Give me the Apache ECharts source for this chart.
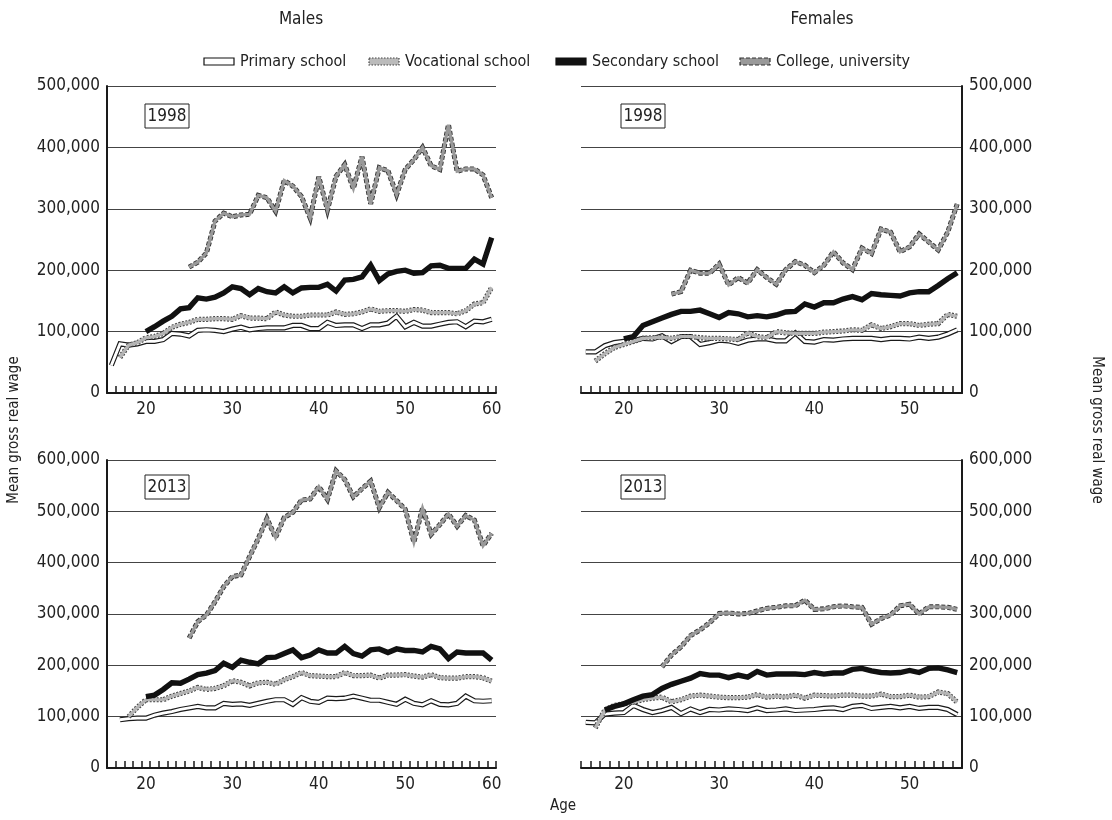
<!DOCTYPE html>
<html><head><meta charset="utf-8">
<script src="https://cdn.jsdelivr.net/npm/echarts@6/dist/echarts.min.js"></script>
<style>html,body{margin:0;padding:0;background:#fff}#c{width:1112px;height:820px}</style>
</head><body><div id="c"></div>
<script>
// ---------------- DATA (values in thousands) ----------------
const agesMale = ['16','17','18','19','20','21','22','23','24','25','26','27','28','29','30','31','32','33','34','35','36','37','38','39','40','41','42','43','44','45','46','47','48','49','50','51','52','53','54','55','56','57','58','59','60'];
const agesFemale = ['16','17','18','19','20','21','22','23','24','25','26','27','28','29','30','31','32','33','34','35','36','37','38','39','40','41','42','43','44','45','46','47','48','49','50','51','52','53','54','55'];
const yTicks1998 = [0,100,200,300,400,500];
const yTicks2013 = [0,100,200,300,400,500,600];
const seriesNames = ['Primary school','Vocational school','Secondary school','College, university'];

// Males 1998 (ages 16-60)
const primM98 = [45,80,78,80,84,84,87,97,96,93,102,103,102,100,104,107,103,105,106,106,106,110,110,105,105,115,110,111,111,105,111,111,114,125,108,115,109,109,112,115,116,108,117,116,120];
const vocM98  = [null,58,78,82,90,92,97,107,112,115,120,120,121,121,120,126,122,122,121,132,127,125,125,127,127,127,132,128,129,132,137,133,134,134,133,136,135,131,131,131,129,134,145,147,172];
const secM98  = [null,null,null,null,100,108,117,125,137,139,155,153,156,163,173,170,160,170,165,163,173,163,171,172,172,177,166,184,185,189,208,183,194,198,200,195,196,207,208,203,203,203,218,210,253];
const colM98  = [null,null,null,null,null,null,null,null,null,205,213,228,280,293,287,290,291,322,318,296,346,337,320,285,352,298,353,372,333,385,308,367,362,323,364,380,400,370,364,437,361,365,365,355,318];

// Females 1998 (ages 16-55)
const primF98 = [67,67,77,82,84,85,89,88,93,84,92,92,79,82,86,85,81,86,88,88,85,85,98,84,83,87,86,88,89,89,89,87,89,89,88,91,89,91,96,103];
const vocF98  = [null,52,64,74,79,84,89,90,91,89,92,92,90,89,89,88,87,98,92,90,100,98,97,97,97,99,100,101,103,102,111,105,108,113,113,110,112,113,128,125];
const secF98  = [null,null,null,null,88,92,110,116,122,128,133,133,135,129,123,131,129,124,126,124,127,132,133,145,140,147,147,153,157,152,162,160,159,158,163,165,165,175,186,196];
const colF98  = [null,null,null,null,null,null,null,null,null,161,165,200,195,195,210,176,188,179,201,188,177,201,214,208,196,208,230,212,201,236,227,267,262,230,238,259,246,233,262,308];

// Males 2013 (ages 16-60)
const primM13 = [null,94,96,97,97,103,107,110,114,117,120,117,117,126,124,125,122,126,130,133,133,124,137,130,128,136,135,136,140,136,132,132,128,124,134,126,123,131,124,123,126,140,131,130,131];
const vocM13  = [null,null,100,118,133,133,133,140,145,150,157,153,155,160,170,167,160,166,167,163,172,178,186,180,179,178,178,186,180,180,181,175,181,181,182,179,177,182,176,175,175,178,178,176,169];
const secM13  = [null,null,null,null,139,142,153,166,165,173,182,185,190,204,196,210,206,203,215,216,223,230,215,220,230,224,224,237,223,218,230,232,225,232,229,229,226,237,232,213,226,224,224,224,210];
const colM13  = [null,null,null,null,null,null,null,null,null,253,285,298,324,353,373,376,412,447,486,449,488,498,522,524,548,523,579,562,528,544,559,507,537,521,504,440,506,455,474,495,471,492,483,433,457];

// Females 2013 (ages 16-55)
const primF13 = [89,88,105,107,108,122,114,108,112,118,106,115,108,114,113,115,114,112,117,112,113,115,112,113,114,116,117,114,120,122,116,118,120,117,120,116,118,118,114,104];
const vocF13  = [null,78,113,122,125,128,133,136,138,129,133,140,142,140,138,137,137,138,143,138,140,138,142,136,142,141,140,142,142,140,140,144,139,139,142,138,139,148,145,128];
const secF13  = [null,null,113,120,125,133,140,143,155,163,169,175,184,181,181,176,181,177,188,181,183,183,183,182,186,183,185,185,192,194,189,186,185,186,190,186,194,195,191,186];
const colF13  = [null,null,null,null,null,null,null,null,197,220,236,258,269,283,301,302,300,301,306,311,313,316,316,327,309,310,314,316,314,313,280,291,298,316,319,300,314,314,313,309];

// ---------------- CHART ----------------
const FONT = "'Liberation Sans Narrow','DejaVu Sans Condensed','Roboto Condensed',sans-serif";
const INK = '#1a1a1a';
const chart = echarts.init(document.getElementById('c'), null, {renderer: 'canvas'});

const panels = [
  {ages: agesMale,   ticks: yTicks1998, pos: 'left',  grid: {left: 107, top: 86,  width: 389, height: 307}, data: [primM98, vocM98, secM98, colM98]},
  {ages: agesFemale, ticks: yTicks1998, pos: 'right', grid: {left: 581, top: 86,  width: 381, height: 307}, data: [primF98, vocF98, secF98, colF98]},
  {ages: agesMale,   ticks: yTicks2013, pos: 'left',  grid: {left: 107, top: 460, width: 389, height: 308}, data: [primM13, vocM13, secM13, colM13]},
  {ages: agesFemale, ticks: yTicks2013, pos: 'right', grid: {left: 581, top: 460, width: 381, height: 308}, data: [primF13, vocF13, secF13, colF13]}
];

const styles = [
  [{color: INK, width: 5.2, z: 2}, {color: '#ffffff', width: 2.8, z: 3}],
  [{color: '#444', width: 5.2, type: [2, 1.5], z: 4}, {color: '#b4b4b4', width: 3.2, z: 5}],
  [{color: '#111', width: 5.4, z: 6}],
  [{color: '#333', width: 5.0, type: [4, 2], z: 7}, {color: '#999999', width: 3.2, z: 8}]
];

const grids = [], xAxes = [], yAxes = [], series = [];
panels.forEach((p, i) => {
  grids.push(p.grid);
  xAxes.push({
    type: 'category', gridIndex: i, data: p.ages, boundaryGap: true,
    axisLine: {show: true, lineStyle: {color: INK, width: 2}},
    axisTick: {show: true, inside: true, length: 7, interval: 0, lineStyle: {color: INK, width: 1.5}},
    axisLabel: {interval: (idx, v) => (+v) % 10 === 0, color: '#222', fontSize: 17, fontFamily: FONT, margin: 8},
    splitLine: {show: false}
  });
  yAxes.push({
    type: 'value', gridIndex: i, position: p.pos,
    min: p.ticks[0], max: p.ticks[p.ticks.length - 1], interval: 100,
    axisLine: {show: true, lineStyle: {color: INK, width: 2}},
    axisTick: {show: false},
    axisLabel: {color: '#222', fontSize: 17, fontFamily: FONT, margin: 7,
      formatter: v => v === 0 ? '0' : (v + ',000')},
    splitLine: {show: true, lineStyle: {color: '#444', width: 1}}
  });
  p.data.forEach((d, k) => {
    styles[k].forEach(st => {
      const ls = {color: st.color, width: st.width, join: 'miter', miterLimit: 4, cap: 'butt'};
      if (st.type) ls.type = st.type;
      series.push({
        type: 'line', name: seriesNames[k], xAxisIndex: i, yAxisIndex: i,
        data: d, showSymbol: false, symbol: 'none', connectNulls: false,
        z: st.z, silent: true, lineStyle: ls, animation: false
      });
    });
  });
});

const txt = (x, y, text, size, extra) => Object.assign({
  type: 'text', x: x, y: y,
  style: {text: text, fill: '#222', font: size + 'px ' + FONT, textAlign: 'center', textVerticalAlign: 'middle'}
}, extra || {});

const yearBox = (x, y, label) => ({
  type: 'group', children: [
    {type: 'rect', shape: {x: x, y: y, width: 44, height: 24}, style: {fill: '#fff', stroke: '#222', lineWidth: 1}},
    {type: 'text', x: x + 22, y: y + 12.5, style: {text: label, fill: '#222', font: '17px ' + FONT, textAlign: 'center', textVerticalAlign: 'middle'}}
  ]
});

const legendItem = (x, label, fill, stroke, dash) => ({
  type: 'group', children: [
    {type: 'rect', shape: {x: x, y: 58, width: 30, height: 7},
     style: {fill: fill, stroke: stroke, lineWidth: 1.2, lineDash: dash || null}},
    {type: 'text', x: x + 36, y: 61.5, style: {text: label, fill: '#222', font: '16px ' + FONT, textAlign: 'left', textVerticalAlign: 'middle'}}
  ]
});

const graphic = [
  txt(301, 20, 'Males', 17),
  txt(822, 20, 'Females', 17),
  legendItem(204, seriesNames[0], '#fff', '#111'),
  legendItem(369, seriesNames[1], '#bbb', '#444', [1.5, 1.5]),
  legendItem(556, seriesNames[2], '#111', '#111'),
  legendItem(740, seriesNames[3], '#999', '#333', [4, 2]),
  yearBox(145, 104, '1998'),
  yearBox(621, 104, '1998'),
  yearBox(145, 475, '2013'),
  yearBox(621, 475, '2013'),
  txt(14, 430, 'Mean gross real wage', 15, {rotation: Math.PI / 2}),
  txt(1097, 430, 'Mean gross real wage', 15, {rotation: -Math.PI / 2}),
  txt(563, 806, 'Age', 15)
];

chart.setOption({
  animation: false,
  backgroundColor: '#fff',
  grid: grids, xAxis: xAxes, yAxis: yAxes, series: series,
  graphic: graphic
});
</script></body></html>
